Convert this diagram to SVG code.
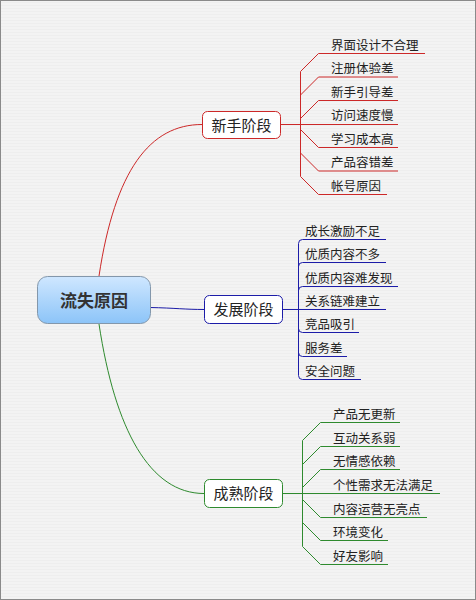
<svg xmlns="http://www.w3.org/2000/svg" width="476" height="600" viewBox="0 0 476 600">
<defs>
<pattern id="stripes" width="4" height="3" patternUnits="userSpaceOnUse">
<rect width="4" height="3" fill="#f3f3f3"/>
<rect y="2" width="4" height="1" fill="#eeeeee"/>
</pattern>
<linearGradient id="rootGrad" x1="0" y1="0" x2="0" y2="1">
<stop offset="0" stop-color="#cfe7ff"/>
<stop offset="1" stop-color="#8cc4f8"/>
</linearGradient>
<style>
text{font-family:"Noto Sans CJK SC","Noto Sans",sans-serif;fill:#222;}
.leaf{font-size:12.5px;}
.branch{font-size:15px;text-anchor:middle;}
.root{font-size:17px;font-weight:bold;text-anchor:middle;fill:#333;}
.red{stroke:#cc2828;fill:none;stroke-width:1;}
.blue{stroke:#1c1ca8;fill:none;stroke-width:1;}
.green{stroke:#2e8a2e;fill:none;stroke-width:1;}
.trunk{stroke-opacity:0.75;}
</style>
</defs>
<rect x="0" y="0" width="476" height="600" fill="url(#stripes)"/>
<rect x="0.5" y="0.5" width="475" height="599" fill="none" stroke="#8a8a8a" stroke-width="1"/>

<g id="connectors">
<path class="red" stroke-width="1.2" d="M99,276 C115,170 150,124.5 202,124.5"/>
<path class="blue" stroke-width="1.2" d="M150,307.5 C175,308 185,309.5 204,309.5"/>
<path class="green" stroke-width="1.2" d="M99,324 C115,430 150,493.5 204,493.5"/>
<!-- red leaves -->
<path class="red" d="M280,124.5 H300.5"/>
<path class="red" d="M300.5,124.5 V71.5 L318.5,53.5 H425"/>
<path class="red" d="M300.5,124.5 V95 L318.5,77 H398"/>
<path class="red" d="M300.5,124.5 V118.5 L318.5,100.5 H398"/>
<path class="red" d="M300.5,124.5 H398"/>
<path class="red" d="M300.5,124.5 V129.5 L318.5,147.5 H398"/>
<path class="red" d="M300.5,124.5 V153 L318.5,171 H398"/>
<path class="red" d="M300.5,124.5 V176.5 L318.5,194.5 H387"/>
<!-- blue leaves -->
<path class="blue" d="M283,309.5 H298.5"/>
<path class="blue" d="M298.5,309.5 V243.5 Q298.5,239.5 302.5,239.5 H386"/>
<path class="blue" d="M298.5,309.5 V266.5 Q298.5,262.5 302.5,262.5 H386"/>
<path class="blue" d="M298.5,309.5 V290.5 Q298.5,286.5 302.5,286.5 H398"/>
<path class="blue" d="M298.5,309.5 H386"/>
<path class="blue" d="M298.5,309.5 V328.5 Q298.5,332.5 302.5,332.5 H359"/>
<path class="blue" d="M298.5,309.5 V352.5 Q298.5,356.5 302.5,356.5 H347"/>
<path class="blue" d="M298.5,309.5 V375.5 Q298.5,379.5 302.5,379.5 H361"/>
<!-- green leaves -->
<path class="green" d="M283,493.5 H302.5"/>
<path class="green" d="M302.5,493.5 V440.5 L320.5,422.5 H400"/>
<path class="green" d="M302.5,493.5 V464.5 L320.5,446.5 H400"/>
<path class="green" d="M302.5,493.5 V487.5 L320.5,469.5 H400"/>
<path class="green" d="M302.5,493.5 H440"/>
<path class="green" d="M302.5,493.5 V499.5 L320.5,517.5 H427"/>
<path class="green" d="M302.5,493.5 V522.5 L320.5,540.5 H388"/>
<path class="green" d="M302.5,493.5 V546.5 L320.5,564.5 H388"/>
</g>

<g id="root">
<rect x="37.5" y="276.5" width="113" height="47" rx="10" fill="url(#rootGrad)" stroke="#8397ab" stroke-width="1"/>
<text class="root" x="94" y="306.5">流失原因</text>
</g>

<g id="branch-novice">
<rect x="202.5" y="111.5" width="78" height="27" rx="5" fill="#ffffff" stroke="#cc2828"/>
<text class="branch" x="241.5" y="130.5">新手阶段</text>
</g>
<g id="branch-growth">
<rect x="204.5" y="295.5" width="78" height="28" rx="5" fill="#ffffff" stroke="#1c1ca8"/>
<text class="branch" x="243.5" y="315">发展阶段</text>
</g>
<g id="branch-mature">
<rect x="204.5" y="479.5" width="78" height="28" rx="5" fill="#ffffff" stroke="#2e8a2e"/>
<text class="branch" x="243.5" y="499">成熟阶段</text>
</g>

<g id="leaves-novice">
<text class="leaf" x="331" y="49.5">界面设计不合理</text>
<text class="leaf" x="331" y="73">注册体验差</text>
<text class="leaf" x="331" y="96.5">新手引导差</text>
<text class="leaf" x="331" y="120">访问速度慢</text>
<text class="leaf" x="331" y="143.5">学习成本高</text>
<text class="leaf" x="331" y="167">产品容错差</text>
<text class="leaf" x="331" y="190.5">帐号原因</text>
</g>
<g id="leaves-growth">
<text class="leaf" x="305" y="235.5">成长激励不足</text>
<text class="leaf" x="305" y="258.5">优质内容不多</text>
<text class="leaf" x="305" y="282.5">优质内容难发现</text>
<text class="leaf" x="305" y="305.5">关系链难建立</text>
<text class="leaf" x="305" y="328.5">竞品吸引</text>
<text class="leaf" x="305" y="352.5">服务差</text>
<text class="leaf" x="305" y="375.5">安全问题</text>
</g>
<g id="leaves-mature">
<text class="leaf" x="333" y="418.5">产品无更新</text>
<text class="leaf" x="333" y="442.5">互动关系弱</text>
<text class="leaf" x="333" y="465.5">无情感依赖</text>
<text class="leaf" x="333" y="489.5">个性需求无法满足</text>
<text class="leaf" x="333" y="513.5">内容运营无亮点</text>
<text class="leaf" x="333" y="536.5">环境变化</text>
<text class="leaf" x="333" y="560.5">好友影响</text>
</g>
</svg>
